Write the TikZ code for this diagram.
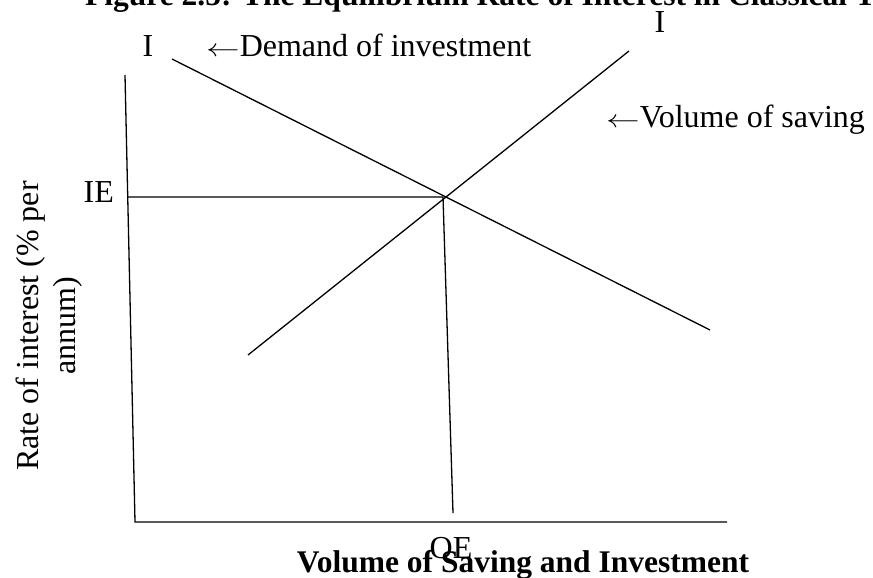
\documentclass[tikz,border=0pt]{standalone}
\usepackage{fontspec}
\setmainfont{Liberation Serif}
\newcommand{\larrow}{\scalebox{1.35}[1]{$\leftarrow$}}
\begin{document}
\begin{tikzpicture}[x=1pt,y=-1pt,
  lbl/.style={inner sep=0pt, font=\fontsize{32}{37}\selectfont},
  boldlbl/.style={inner sep=0pt, font=\bfseries\fontsize{31.5}{36}\selectfont},
  curve/.style={line width=1.3pt}]
\useasboundingbox (0,0) rectangle (873,578);
% title, cut at the top and the right
\node[boldlbl, anchor=base west] (title) at (85,6) {Figure 2.5: The Equilibrium Rate of Interest in Classical Theory};
% axes
\coordinate (ytop) at (125,75);
\coordinate (orig) at (135,522);
\coordinate (xend) at (727,522);
\draw[curve] (ytop) -- (orig) -- (xend);
% demand and saving lines
\coordinate (dtop) at (172,59);
\coordinate (dbot) at (710,330);
\coordinate (sbot) at (248,355);
\coordinate (stop) at (629,51);
\draw[curve] (dtop) -- (dbot);
\draw[curve] (sbot) -- (stop);
% equilibrium
\coordinate (eq) at (443,197);
\coordinate (ie) at (127,197);
\coordinate (qe) at (453,513);
\draw[curve] (ie) -- (eq) -- (qe);
% labels
\node[lbl, anchor=base] (ilow) at (148,57) {I};
\node[lbl, anchor=base west] (demand) at (206,57) {\larrow Demand of investment};
\node[lbl, anchor=base] (ihigh) at (660,33) {I};
\node[lbl, anchor=base west] (saving) at (606,128) {\larrow Volume of saving};
\node[lbl, anchor=base east] (ielbl) at (114,202) {IE};
\node[lbl, anchor=base] (qelbl) at (451,558) {QE};
\node[boldlbl, anchor=base] (xlbl) at (523,572) {Volume of Saving and Investment};
\node[lbl, rotate=90, align=center] (ylbl) at (49,326) {Rate of interest (\% per\\annum)};
\end{tikzpicture}
\end{document}
